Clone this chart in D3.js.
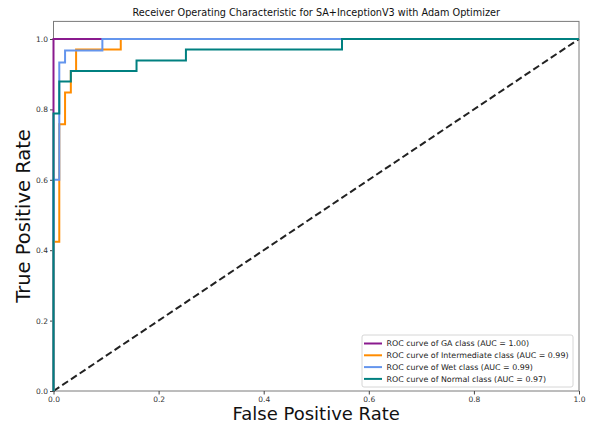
<!DOCTYPE html>
<html>
<head>
<meta charset="utf-8">
<script src="https://cdn.jsdelivr.net/npm/d3@7/dist/d3.min.js"></script>
<style>
  html, body { margin: 0; padding: 0; background: #fff; }
  svg { display: block; font-family: "DejaVu Sans", sans-serif; }
</style>
</head>
<body>
<svg id="chart" width="601" height="429"></svg>
<script>
// ROC step curves: [false positive rate, true positive rate] vertices
const gaCurve = [[0, 0], [0, 1.0], [1, 1.0]];
const intermediateCurve = [
  [0, 0], [0, 0.424], [0.011, 0.424], [0.011, 0.758], [0.022, 0.758],
  [0.022, 0.848], [0.033, 0.848], [0.033, 0.909], [0.043, 0.909],
  [0.043, 0.970], [0.128, 0.970], [0.128, 1.0], [1, 1.0]
];
const wetCurve = [
  [0, 0], [0, 0.600], [0.011, 0.600], [0.011, 0.933], [0.022, 0.933],
  [0.022, 0.967], [0.093, 0.967], [0.093, 1.0], [1, 1.0]
];
const normalCurve = [
  [0, 0], [0, 0.788], [0.011, 0.788], [0.011, 0.879], [0.033, 0.879],
  [0.033, 0.909], [0.158, 0.909], [0.158, 0.939], [0.252, 0.939],
  [0.252, 0.970], [0.549, 0.970], [0.549, 1.0], [1, 1.0]
];

const seriesNames = ["GA", "Intermediate", "Wet", "Normal"];
const seriesAUC = [1.00, 0.99, 0.99, 0.97];
const seriesCurves = [gaCurve, intermediateCurve, wetCurve, normalCurve];
const seriesColors = ["#8a1a8e", "#ff8c00", "#6495ed", "#008080"];

const xTicks = [0, 0.2, 0.4, 0.6, 0.8, 1.0];
const yTicks = [0, 0.2, 0.4, 0.6, 0.8, 1.0];

const svg = d3.select("#chart");
const plotLeft = 53.5, plotRight = 579, plotBottom = 391, plotTop = 21.4;

const x = d3.scaleLinear().domain([0, 1]).range([plotLeft, plotRight]);
const y = d3.scaleLinear().domain([0, 1.05]).range([plotBottom, plotTop]);

// plot frame
svg.append("rect")
  .attr("x", plotLeft).attr("y", plotTop)
  .attr("width", plotRight - plotLeft).attr("height", plotBottom - plotTop)
  .attr("fill", "none").attr("stroke", "#7a7a7a").attr("stroke-width", 1);

// axes
const xAxis = svg.append("g")
  .attr("transform", `translate(0,${plotBottom})`)
  .call(d3.axisBottom(x).tickValues(xTicks).tickFormat(d3.format(".1f")).tickSize(3.5).tickPadding(2));
const yAxis = svg.append("g")
  .attr("transform", `translate(${plotLeft},0)`)
  .call(d3.axisLeft(y).tickValues(yTicks).tickFormat(d3.format(".1f")).tickSize(3.5).tickPadding(2));
[xAxis, yAxis].forEach(g => {
  g.select(".domain").remove();
  g.selectAll("line").attr("stroke", "#444");
  g.selectAll("text").attr("fill", "#333").style("font-size", "7.5px")
    .style("font-family", "DejaVu Sans, sans-serif");
});

const line = d3.line().x(d => x(d[0])).y(d => y(d[1]));

// chance diagonal
svg.append("path")
  .attr("d", line([[0, 0], [1, 1]]))
  .attr("fill", "none").attr("stroke", "#222").attr("stroke-width", 2)
  .attr("stroke-dasharray", "7,3.5");

// ROC curves
seriesCurves.forEach((c, i) => {
  svg.append("path")
    .attr("d", line(c))
    .attr("fill", "none")
    .attr("stroke", seriesColors[i])
    .attr("stroke-width", 2)
    .attr("stroke-linejoin", "miter");
});

// legend
const lg = svg.append("g").attr("transform", "translate(362,335)");
lg.append("rect")
  .attr("x", 0).attr("y", 0).attr("width", 211).attr("height", 52)
  .attr("rx", 2).attr("fill", "#fff").attr("fill-opacity", 0.85)
  .attr("stroke", "#ccc").attr("stroke-width", 0.8);
seriesNames.forEach((n, i) => {
  const ry = 8.5 + i * 11.8;
  lg.append("line")
    .attr("x1", 2).attr("x2", 20).attr("y1", ry).attr("y2", ry)
    .attr("stroke", seriesColors[i]).attr("stroke-width", 2);
  lg.append("text")
    .attr("x", 24.5).attr("y", ry).attr("dy", "0.35em")
    .attr("fill", "#222").style("font-size", "7.9px")
    .text(`ROC curve of ${n} class (AUC = ${seriesAUC[i].toFixed(2)})`);
});

// title and axis labels
svg.append("text")
  .attr("x", (plotLeft + plotRight) / 2).attr("y", 16)
  .attr("text-anchor", "middle").attr("fill", "#111")
  .style("font-size", "9.7px")
  .text("Receiver Operating Characteristic for SA+InceptionV3 with Adam Optimizer");
svg.append("text")
  .attr("x", (plotLeft + plotRight) / 2).attr("y", 420)
  .attr("text-anchor", "middle").attr("fill", "#111")
  .style("font-size", "18px")
  .text("False Positive Rate");
svg.append("text")
  .attr("transform", `translate(30,216) rotate(-90)`)
  .attr("text-anchor", "middle").attr("fill", "#111")
  .style("font-size", "19.5px")
  .text("True Positive Rate");
</script>
</body>
</html>
